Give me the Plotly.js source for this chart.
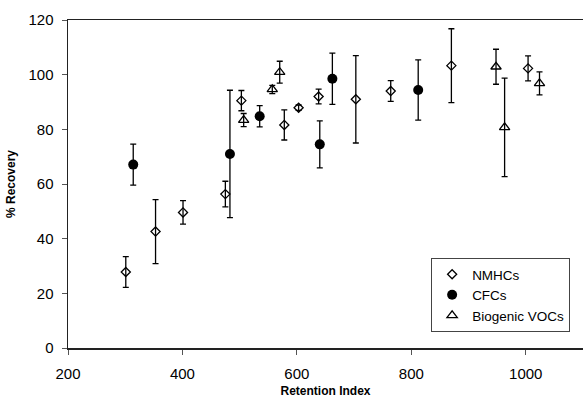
<!DOCTYPE html>
<html><head><meta charset="utf-8">
<script src="https://cdn.plot.ly/plotly-3.0.1.min.js"></script>
<style>html,body{margin:0;padding:0;background:#fff;overflow:hidden}</style>
</head><body><div id="chart" style="width:583px;height:400px"></div>
<script>
const nmhcX = [301, 353, 401, 475, 503, 578, 603, 638, 703, 764, 870, 1004];
const nmhcY = [27.8, 42.6, 49.6, 56.3, 90.5, 81.6, 87.9, 92.0, 91.0, 94.0, 103.3, 102.3];
const nmhcE = [5.6, 11.7, 4.3, 4.7, 3.7, 5.5, 1.0, 2.7, 16.0, 3.8, 13.5, 4.6];

const cfcX = [314, 483, 535, 640, 662, 812];
const cfcY = [67.1, 71.0, 84.8, 74.5, 98.5, 94.4];
const cfcE = [7.5, 23.3, 3.9, 8.6, 9.4, 11.0];

const bioX = [507, 557, 570, 948, 963, 1024];
const bioY = [83.4, 94.6, 100.9, 102.9, 80.7, 96.8];
const bioE = [2.4, 1.5, 4.0, 6.4, 18.0, 4.2];

const names = ["NMHCs", "CFCs", "Biogenic VOCs"];
const xTicks = [200, 400, 600, 800, 1000];
const yTicks = [0, 20, 40, 60, 80, 100, 120];

function err(e){return {type:'data', array:e, visible:true, color:'#000', thickness:1.3, width:3};}

const traces = [
  {x:nmhcX, y:nmhcY, error_y:err(nmhcE), mode:'markers', type:'scatter', name:names[0],
   marker:{symbol:'diamond-open', size:7, color:'#000', line:{width:1.3, color:'#000'}}},
  {x:cfcX, y:cfcY, error_y:err(cfcE), mode:'markers', type:'scatter', name:names[1],
   marker:{symbol:'circle', size:10, color:'#000'}},
  {x:bioX, y:bioY, error_y:err(bioE), mode:'markers', type:'scatter', name:names[2],
   marker:{symbol:'triangle-up-open', size:9, color:'#000', line:{width:1.3, color:'#000'}}}
];

const layout = {
  width:583, height:400,
  margin:{l:68, r:0, t:20, b:52, autoexpand:false},
  paper_bgcolor:'#fff', plot_bgcolor:'#fff',
  font:{family:'Liberation Sans, Arial, sans-serif', color:'#000', size:15},
  showlegend:true,
  legend:{x:0.975, y:0.2744, xanchor:'right', yanchor:'top', bgcolor:'#fff',
          bordercolor:'#444', borderwidth:1, font:{size:13.5}, tracegroupgap:2, itemwidth:30},
  xaxis:{range:[200,1100], tickvals:xTicks, ticktext:xTicks.map(String), showgrid:false, zeroline:false,
         showline:true, linecolor:'#222', linewidth:1.5, mirror:true, ticks:'outside', ticklen:5, tickcolor:'#555',
         tickfont:{size:15}, ticklabelstandoff:6, automargin:false,
         title:{text:'<b>Retention Index</b>', font:{size:12}, standoff:6}},
  yaxis:{range:[0,120], tickvals:yTicks, ticktext:yTicks.map(String), showgrid:false, zeroline:false,
         showline:true, linecolor:'#222', linewidth:1.5, ticks:'outside', ticklen:5, tickcolor:'#555',
         tickfont:{size:15}, ticklabelstandoff:5, automargin:false,
         title:{text:'<b>% Recovery</b>', font:{size:12}, standoff:10}}
};
Plotly.newPlot('chart', traces, layout, {displayModeBar:false, staticPlot:true});
</script></body></html>
